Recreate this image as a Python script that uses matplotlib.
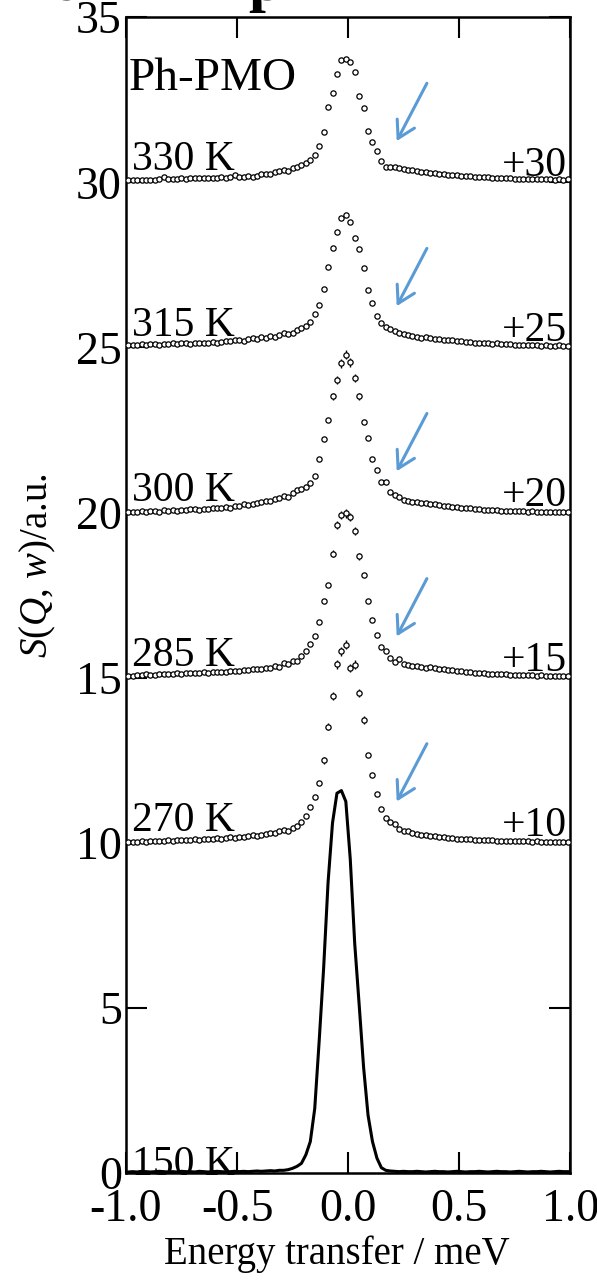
import numpy as np
import matplotlib
matplotlib.use("Agg")
import matplotlib.pyplot as plt

plt.rcParams['font.family'] = 'Liberation Serif'
plt.rcParams['mathtext.fontset'] = 'custom'
plt.rcParams['mathtext.rm'] = 'Liberation Serif'
plt.rcParams['mathtext.it'] = 'Liberation Serif:italic'
plt.rcParams['axes.unicode_minus'] = False

# energy channels (meV), 100 bins centred from -0.99 to 0.99
energy = np.linspace(-0.99, 0.99, 100)

temps = ['330 K', '315 K', '300 K', '285 K', '270 K']
offsets = [30, 25, 20, 15, 10]

s_330 = [0.06, 0.07, 0.06, 0.08, 0.07, 0.08, 0.07, 0.09, 0.15, 0.09,
         0.11, 0.10, 0.12, 0.11, 0.12, 0.13, 0.12, 0.13, 0.14, 0.13,
         0.14, 0.15, 0.14, 0.15, 0.22, 0.15, 0.16, 0.18, 0.17, 0.19,
         0.24, 0.26, 0.25, 0.30, 0.33, 0.36, 0.34, 0.42, 0.47, 0.54,
         0.60, 0.69, 0.84, 1.10, 1.52, 2.28, 2.70, 3.27, 3.70, 3.75,
         3.63, 3.35, 2.60, 2.25, 1.55, 1.22, 0.94, 0.65, 0.47, 0.46,
         0.45, 0.43, 0.40, 0.37, 0.36, 0.33, 0.31, 0.30, 0.29, 0.27,
         0.26, 0.25, 0.23, 0.22, 0.21, 0.20, 0.19, 0.18, 0.17, 0.16,
         0.16, 0.15, 0.14, 0.14, 0.13, 0.12, 0.12, 0.11, 0.11, 0.10,
         0.11, 0.10, 0.09, 0.10, 0.09, 0.10, 0.08, 0.09, 0.08, 0.09]

s_315 = [0.06, 0.08, 0.07, 0.09, 0.08, 0.10, 0.09, 0.08, 0.11, 0.10,
         0.12, 0.10, 0.13, 0.15, 0.11, 0.12, 0.14, 0.13, 0.15, 0.16,
         0.15, 0.18, 0.21, 0.19, 0.22, 0.24, 0.21, 0.26, 0.28, 0.27,
         0.31, 0.29, 0.34, 0.33, 0.37, 0.44, 0.40, 0.45, 0.52, 0.58,
         0.65, 0.78, 1.00, 1.29, 1.78, 2.45, 3.00, 3.50, 3.92, 4.00,
         3.80, 3.31, 2.98, 2.41, 1.75, 1.36, 0.95, 0.74, 0.62, 0.55,
         0.50, 0.43, 0.40, 0.38, 0.35, 0.33, 0.30, 0.31, 0.28, 0.27,
         0.26, 0.24, 0.22, 0.23, 0.21, 0.19, 0.18, 0.17, 0.15, 0.14,
         0.13, 0.12, 0.11, 0.12, 0.10, 0.09, 0.10, 0.08, 0.07, 0.08,
         0.07, 0.06, 0.07, 0.05, 0.06, 0.05, 0.04, 0.06, 0.04, 0.03]

s_300 = [0.02, 0.03, 0.01, 0.04, 0.03, 0.05, 0.04, 0.03, 0.07, 0.06,
         0.08, 0.06, 0.09, 0.08, 0.11, 0.10, 0.09, 0.12, 0.11, 0.14,
         0.13, 0.15, 0.17, 0.14, 0.19, 0.21, 0.26, 0.23, 0.27, 0.29,
         0.33, 0.36, 0.34, 0.40, 0.43, 0.51, 0.48, 0.58, 0.67, 0.72,
         0.78, 0.88, 1.10, 1.62, 2.22, 2.80, 3.52, 4.02, 4.52, 4.78,
         4.55, 4.07, 3.52, 2.75, 2.26, 1.62, 1.28, 0.92, 0.94, 0.61,
         0.53, 0.48, 0.38, 0.36, 0.33, 0.31, 0.30, 0.28, 0.26, 0.25,
         0.23, 0.21, 0.20, 0.18, 0.16, 0.15, 0.14, 0.13, 0.11, 0.10,
         0.09, 0.08, 0.08, 0.07, 0.06, 0.06, 0.05, 0.04, 0.05, 0.04,
         0.03, 0.04, 0.03, 0.02, 0.03, 0.02, 0.01, 0.02, 0.01, 0.02]

s_285 = [0.06, 0.05, 0.08, 0.07, 0.10, 0.08, 0.09, 0.11, 0.10, 0.12,
         0.11, 0.13, 0.12, 0.14, 0.13, 0.15, 0.14, 0.16, 0.15, 0.17,
         0.16, 0.18, 0.17, 0.19, 0.21, 0.20, 0.24, 0.22, 0.26, 0.25,
         0.27, 0.30, 0.29, 0.35, 0.33, 0.44, 0.42, 0.51, 0.50, 0.66,
         0.80, 1.03, 1.27, 1.70, 2.33, 2.80, 3.75, 4.62, 4.93, 4.98,
         4.86, 4.43, 3.67, 3.12, 2.33, 1.75, 1.30, 0.94, 0.80, 0.61,
         0.48, 0.58, 0.41, 0.39, 0.36, 0.34, 0.33, 0.30, 0.31, 0.28,
         0.27, 0.25, 0.22, 0.23, 0.19, 0.20, 0.18, 0.16, 0.15, 0.14,
         0.13, 0.12, 0.12, 0.11, 0.10, 0.10, 0.09, 0.08, 0.09, 0.08,
         0.07, 0.07, 0.06, 0.07, 0.06, 0.05, 0.06, 0.05, 0.05, 0.05]

s_270 = [0.02, 0.03, 0.02, 0.04, 0.03, 0.05, 0.04, 0.06, 0.05, 0.07,
         0.06, 0.08, 0.07, 0.09, 0.08, 0.10, 0.09, 0.12, 0.10, 0.11,
         0.13, 0.12, 0.15, 0.16, 0.14, 0.18, 0.17, 0.20, 0.22, 0.21,
         0.25, 0.27, 0.31, 0.29, 0.36, 0.38, 0.37, 0.45, 0.52, 0.62,
         0.82, 1.07, 1.40, 1.80, 2.50, 3.52, 4.45, 5.40, 5.80, 6.00,
         5.29, 5.39, 4.53, 3.72, 2.65, 2.04, 1.48, 1.01, 0.75, 0.62,
         0.57, 0.42, 0.37, 0.35, 0.31, 0.27, 0.25, 0.22, 0.21, 0.19,
         0.18, 0.16, 0.15, 0.14, 0.12, 0.11, 0.11, 0.10, 0.09, 0.08,
         0.08, 0.07, 0.07, 0.06, 0.06, 0.05, 0.05, 0.04, 0.05, 0.04,
         0.04, 0.03, 0.04, 0.03, 0.03, 0.03, 0.02, 0.03, 0.02, 0.03]

# resolution run at 150 K, drawn as a line without offset
s_150 = [0.03, 0.04, 0.03, 0.05, 0.04, 0.03, 0.04, 0.05, 0.04, 0.03,
         0.04, 0.03, 0.05, 0.04, 0.04, 0.03, 0.05, 0.04, 0.03, 0.04,
         0.05, 0.04, 0.03, 0.04, 0.05, 0.04, 0.05, 0.04, 0.05, 0.06,
         0.05, 0.06, 0.07, 0.06, 0.08, 0.08, 0.10, 0.14, 0.20, 0.29,
         0.55, 0.95, 1.95, 4.00, 6.20, 8.80, 10.60, 11.50, 11.58, 11.25,
         9.50, 6.95, 5.10, 3.20, 1.75, 0.95, 0.45, 0.16, 0.08, 0.06,
         0.05, 0.04, 0.05, 0.04, 0.04, 0.05, 0.04, 0.03, 0.04, 0.05,
         0.04, 0.04, 0.03, 0.04, 0.05, 0.04, 0.03, 0.04, 0.04, 0.05,
         0.04, 0.03, 0.04, 0.05, 0.04, 0.04, 0.03, 0.04, 0.05, 0.04,
         0.03, 0.04, 0.04, 0.05, 0.04, 0.03, 0.04, 0.05, 0.04, 0.04]

# error bars around the peaks (first bin index, half-widths)
err_300 = (46, [0.11, 0.12, 0.13, 0.13, 0.13, 0.12, 0.11])
err_285 = (46, [0.11, 0.12, 0.13, 0.13, 0.13, 0.12, 0.11])
err_270 = (44, [0.11, 0.12, 0.12, 0.13, 0.14, 0.14, 0.13, 0.13, 0.12, 0.11])

spectra = [s_330, s_315, s_300, s_285, s_270]
errors = [None, None, err_300, err_285, err_270]

# arrow tail / head positions relative to each offset
arrow_tail = (0.355, 3.0)
arrow_head = (0.219, 1.25)

fig = plt.figure(figsize=(5.97, 12.87), dpi=100)
ax = fig.add_axes([0.211, 0.0886, 0.744, 0.898])

marker_kw = dict(marker='o', ms=3.8, mfc='white', mec='black', mew=0.9,
                 ls='none', zorder=3)

for name, off, s, err in zip(temps, offsets, spectra, errors):
    y = np.array(s) + off
    if err is not None:
        start, e = err
        yerr = np.zeros(len(y))
        yerr[start:start + len(e)] = e
        ax.errorbar(energy, y, yerr=yerr, ecolor='black', elinewidth=1.0,
                    capsize=0, **marker_kw)
    else:
        ax.plot(energy, y, **marker_kw)
    ax.text(-0.975, off + 0.36, name, fontsize=30, ha='left', va='baseline',
            zorder=4)
    ax.text(0.985, off + 0.2, '+%d' % off, fontsize=30, ha='right',
            va='baseline', zorder=4)
    ax.annotate('', xy=(arrow_head[0], off + arrow_head[1]),
                xytext=(arrow_tail[0], off + arrow_tail[1]),
                arrowprops=dict(arrowstyle='->,head_length=0.6,head_width=0.35',
                                color='#5b9bd5', lw=2.2, mutation_scale=20,
                                shrinkA=0, shrinkB=0), zorder=5)

ax.plot(energy, s_150, color='black', lw=2.2, zorder=3)
ax.text(-0.975, -0.05, '150 K', fontsize=30, ha='left', va='baseline', zorder=4)

ax.text(-0.99, 32.8, 'Ph-PMO', fontsize=34, ha='left', va='baseline')

ax.set_xlim(-1.0, 1.0)
ax.set_ylim(0, 35)
ax.set_xticks([-1.0, -0.5, 0.0, 0.5, 1.0])
ax.set_xticklabels(['-1.0', '-0.5', '0.0', '0.5', '1.0'])
ax.set_yticks(range(0, 36, 5))

ax.tick_params(direction='in', length=15, width=1.5, top=True, right=True,
               labelsize=33)
ax.tick_params(axis='y', pad=3)
ax.tick_params(axis='x', pad=11)
for sp in ax.spines.values():
    sp.set_linewidth(1.8)

ax.set_xlabel('Energy transfer / meV', fontsize=28)
ax.set_ylabel(r'$S$($Q$, $w$)/a.u.', fontsize=28)
ax.xaxis.set_label_coords(0.475, -0.054)
ax.yaxis.set_label_coords(-0.153, 0.526)

# bottom of the panel title sits just above the top edge
fig.text(0.085, 1.0, 'e', fontsize=44, fontweight='bold', ha='left',
         va='baseline')
fig.text(0.415, 1.0, 'p', fontsize=44, fontweight='bold', ha='left',
         va='baseline')

fig.savefig('out.png', dpi=100)
